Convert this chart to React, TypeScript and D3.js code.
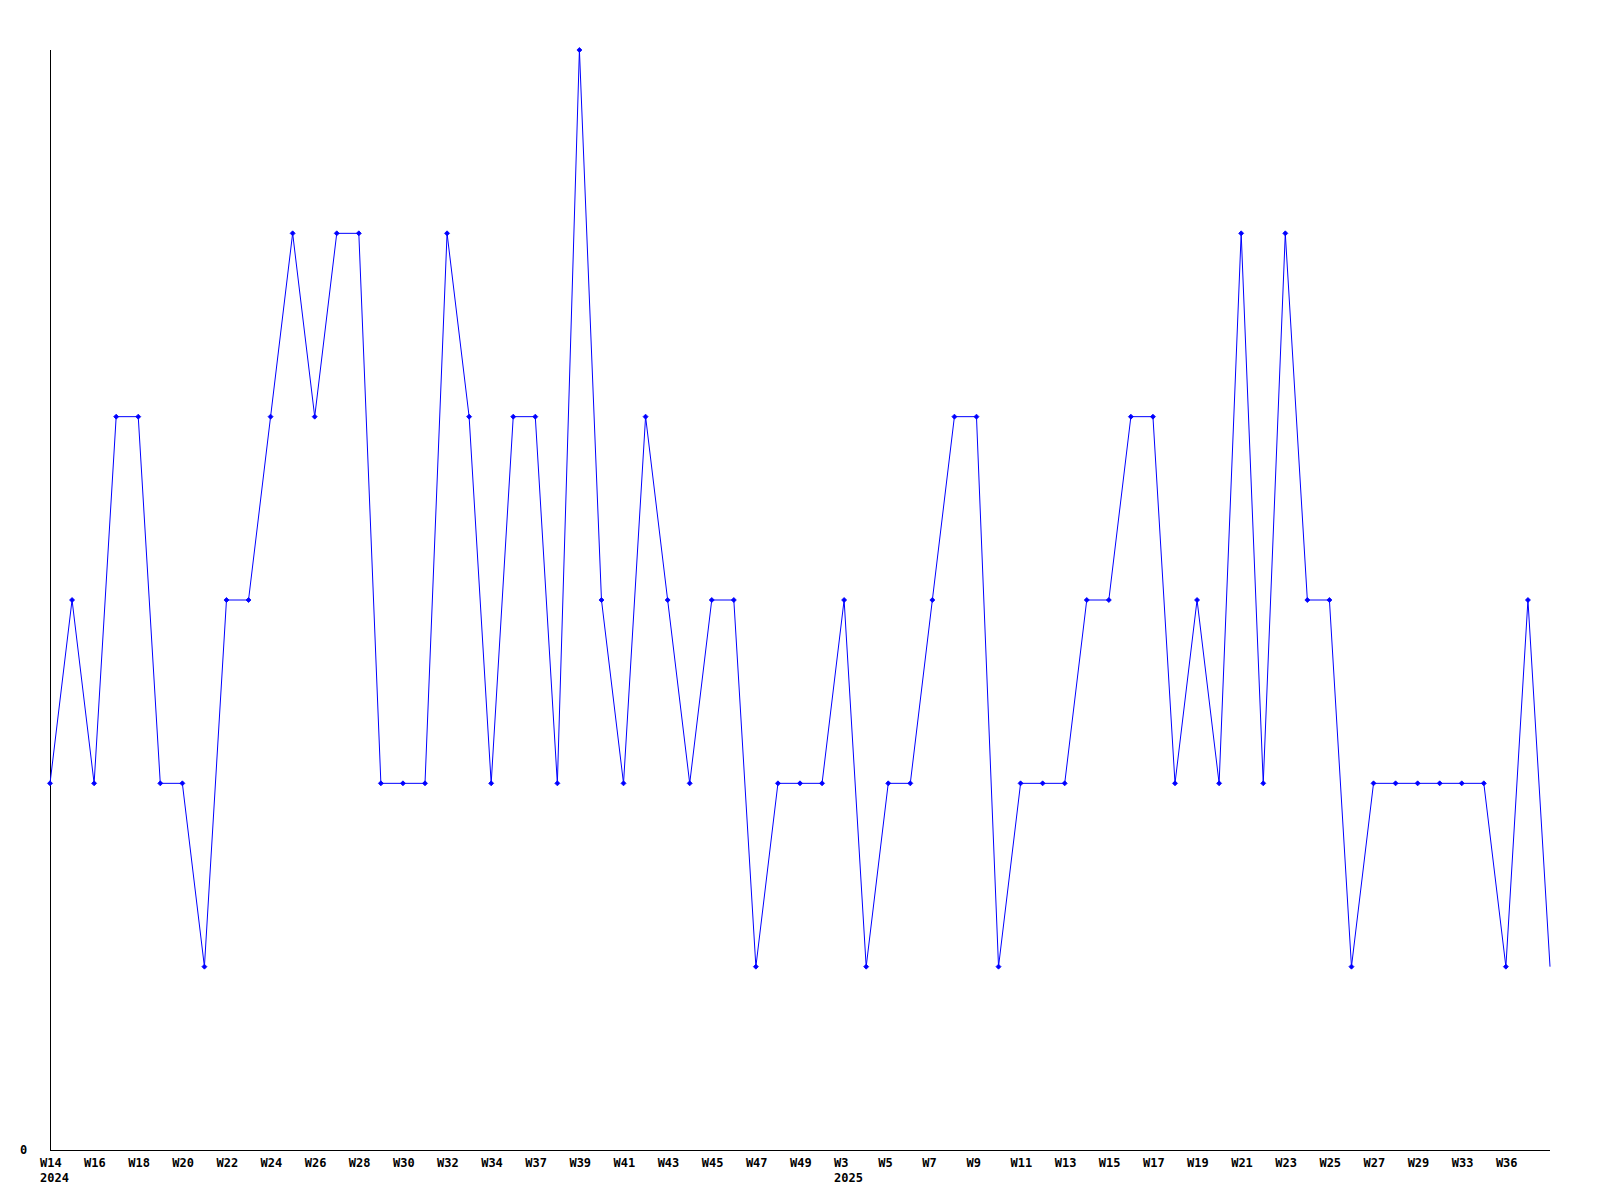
import React from 'react';
import * as d3 from 'd3';

// weeks shown on the x axis (one per data point)
const weeks = [
	'W14', 'W15', 'W16', 'W17', 'W18', 'W19', 'W20', 'W21', 'W22', 'W23',
	'W24', 'W25', 'W26', 'W27', 'W28', 'W29', 'W30', 'W31', 'W32', 'W33',
	'W34', 'W36', 'W37', 'W38', 'W39', 'W40', 'W41', 'W42', 'W43', 'W44',
	'W45', 'W46', 'W47', 'W48', 'W49', 'W51', 'W3', 'W4', 'W5', 'W6',
	'W7', 'W8', 'W9', 'W10', 'W11', 'W12', 'W13', 'W14', 'W15', 'W16',
	'W17', 'W18', 'W19', 'W20', 'W21', 'W22', 'W23', 'W24', 'W25', 'W26',
	'W27', 'W28', 'W29', 'W31', 'W33', 'W35', 'W36', 'W37', 'W38'
];

const counts = [
	2, 3, 2, 4, 4, 2, 2, 1, 3, 3,
	4, 5, 4, 5, 5, 2, 2, 2, 5, 4,
	2, 4, 4, 2, 6, 3, 2, 4, 3, 2,
	3, 3, 1, 2, 2, 2, 3, 1, 2, 2,
	3, 4, 4, 1, 2, 2, 2, 3, 3, 4,
	4, 2, 3, 2, 5, 2, 5, 3, 3, 1,
	2, 2, 2, 2, 2, 2, 1, 3, 1
];

// year labels, placed under the week where the year starts
const yearStarts = [
	{ index: 0, label: '2024' },
	{ index: 36, label: '2025' }
];

const yTickLabels = ['0'];

export default function App() {
	const width = 1600;
	const height = 1200;
	const margin = { left: 50, top: 50, right: 50, bottom: 50 };
	const keys = weeks.map((w, i) => i);

	const x = d3.scalePoint<number>()
		.domain(keys)
		.range([margin.left, width - margin.right]);
	const y = d3.scaleLinear()
		.domain([0, 6])
		.range([height - margin.bottom, margin.top]);

	const line = d3.line<number>()
		.x((d, i) => x(i) as number)
		.y(d => y(d));

	const font = '"DejaVu Sans Mono", monospace';
	const y0 = y(0);

	return (
		<svg width={width} height={height}
			style={{ position: 'absolute', left: 0, top: 0, background: '#fff' }}>
			{/* axes */}
			<line x1={margin.left + 0.5} x2={margin.left + 0.5} y1={y(6)} y2={y0}
				stroke="#000" strokeWidth={1} />
			<line x1={margin.left} x2={width - margin.right} y1={y0 + 0.5} y2={y0 + 0.5}
				stroke="#000" strokeWidth={1} />

			{yTickLabels.map(t => (
				<text key={t} x={20} y={y(+t) + 4} fontFamily={font} fontWeight="bold"
					fontSize={12} fill="#000">{t}</text>
			))}

			{keys.filter(i => i % 2 === 0 && i < keys.length - 1).map(i => (
				<text key={'w' + i} x={(x(i) as number) - 10} y={y0 + 17} fontFamily={font}
					fontWeight="bold" fontSize={12} fill="#000">{weeks[i]}</text>
			))}

			{yearStarts.map(ys => (
				<text key={ys.label} x={(x(ys.index) as number) - 10} y={y0 + 32} fontFamily={font}
					fontWeight="bold" fontSize={12} fill="#000">{ys.label}</text>
			))}

			{/* series */}
			<path d={line(counts) || ''} fill="none" stroke="#0000ff" strokeWidth={1} />
			{counts.slice(0, counts.length - 1).map((c, i) => {
				const cx = x(i) as number;
				const cy = y(c);
				return (
					<path key={'m' + i}
						d={`M${cx - 2.5},${cy}L${cx},${cy - 2.5}L${cx + 2.5},${cy}L${cx},${cy + 2.5}Z`}
						fill="#0000ff" stroke="#0000ff" strokeWidth={0.8} />
				);
			})}
		</svg>
	);
}
